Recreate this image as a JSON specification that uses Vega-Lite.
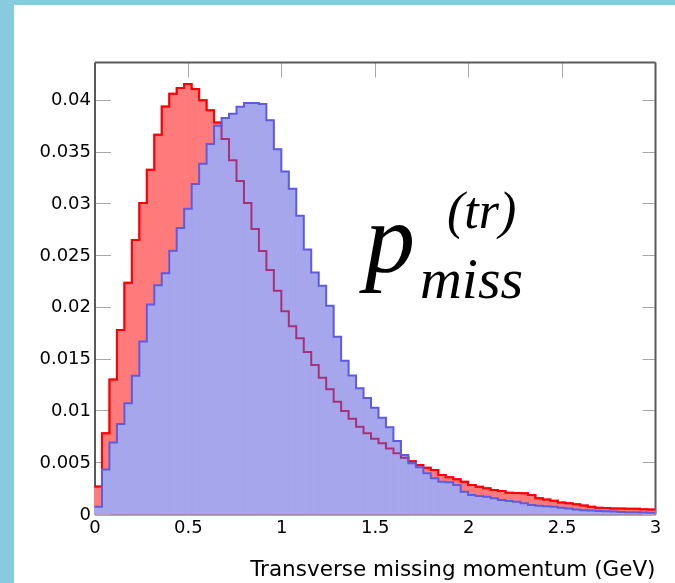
{
  "$schema": "https://vega.github.io/schema/vega-lite/v6.json",
  "width": 661,
  "height": 578,
  "autosize": {"type": "none"},
  "padding": {"left": 14, "top": 5, "right": 0, "bottom": 0},
  "background": "#88cade",
  "view": {"fill": "white", "stroke": null},
  "config": {
    "font": "DejaVu Sans",
    "axis": {
      "grid": false,
      "domainColor": "#5a5a5a",
      "domainWidth": 2,
      "tickColor": "#a8a8a8",
      "tickWidth": 1,
      "labelFont": "DejaVu Sans",
      "labelFontSize": 18,
      "labelColor": "#000000",
      "labelFlush": false,
      "labelOverlap": false,
      "titleFont": "DejaVu Sans",
      "titleFontWeight": "normal",
      "titleColor": "#000000"
    }
  },
  "datasets": {
    "bins": [
      {"lo": 0, "hi": 0.04, "red": 0.00265, "blue": 0.0007},
      {"lo": 0.04, "hi": 0.08, "red": 0.0078, "blue": 0.0043},
      {"lo": 0.08, "hi": 0.12, "red": 0.013, "blue": 0.0069},
      {"lo": 0.12, "hi": 0.16, "red": 0.01777, "blue": 0.0087},
      {"lo": 0.16, "hi": 0.2, "red": 0.02235, "blue": 0.0107},
      {"lo": 0.2, "hi": 0.24, "red": 0.02647, "blue": 0.01335},
      {"lo": 0.24, "hi": 0.28, "red": 0.03005, "blue": 0.01667},
      {"lo": 0.28, "hi": 0.32, "red": 0.03327, "blue": 0.02025},
      {"lo": 0.32, "hi": 0.36, "red": 0.03665, "blue": 0.02209},
      {"lo": 0.36, "hi": 0.4, "red": 0.03936, "blue": 0.02325},
      {"lo": 0.4, "hi": 0.44, "red": 0.04061, "blue": 0.02544},
      {"lo": 0.44, "hi": 0.48, "red": 0.04116, "blue": 0.02763},
      {"lo": 0.48, "hi": 0.52, "red": 0.04155, "blue": 0.0295},
      {"lo": 0.52, "hi": 0.56, "red": 0.04106, "blue": 0.03188},
      {"lo": 0.56, "hi": 0.6, "red": 0.03997, "blue": 0.03385},
      {"lo": 0.6, "hi": 0.64, "red": 0.039, "blue": 0.03575},
      {"lo": 0.64, "hi": 0.68, "red": 0.03782, "blue": 0.0375},
      {"lo": 0.68, "hi": 0.72, "red": 0.03623, "blue": 0.03825},
      {"lo": 0.72, "hi": 0.76, "red": 0.03418, "blue": 0.03868},
      {"lo": 0.76, "hi": 0.8, "red": 0.03217, "blue": 0.03934},
      {"lo": 0.8, "hi": 0.84, "red": 0.03004, "blue": 0.0397},
      {"lo": 0.84, "hi": 0.88, "red": 0.02754, "blue": 0.0397},
      {"lo": 0.88, "hi": 0.92, "red": 0.0254, "blue": 0.03961},
      {"lo": 0.92, "hi": 0.96, "red": 0.02357, "blue": 0.03805},
      {"lo": 0.96, "hi": 1, "red": 0.02158, "blue": 0.03525},
      {"lo": 1, "hi": 1.04, "red": 0.01958, "blue": 0.0331},
      {"lo": 1.04, "hi": 1.08, "red": 0.01813, "blue": 0.03142},
      {"lo": 1.08, "hi": 1.12, "red": 0.01697, "blue": 0.02881},
      {"lo": 1.12, "hi": 1.16, "red": 0.01565, "blue": 0.02555},
      {"lo": 1.16, "hi": 1.2, "red": 0.0144, "blue": 0.02334},
      {"lo": 1.2, "hi": 1.24, "red": 0.01317, "blue": 0.02206},
      {"lo": 1.24, "hi": 1.28, "red": 0.01205, "blue": 0.02013},
      {"lo": 1.28, "hi": 1.32, "red": 0.01085, "blue": 0.01713},
      {"lo": 1.32, "hi": 1.36, "red": 0.00995, "blue": 0.01481},
      {"lo": 1.36, "hi": 1.4, "red": 0.00921, "blue": 0.01337},
      {"lo": 1.4, "hi": 1.44, "red": 0.00844, "blue": 0.01214},
      {"lo": 1.44, "hi": 1.48, "red": 0.00779, "blue": 0.01121},
      {"lo": 1.48, "hi": 1.52, "red": 0.00728, "blue": 0.01027},
      {"lo": 1.52, "hi": 1.56, "red": 0.00683, "blue": 0.00931},
      {"lo": 1.56, "hi": 1.6, "red": 0.00634, "blue": 0.00837},
      {"lo": 1.6, "hi": 1.64, "red": 0.00586, "blue": 0.00705},
      {"lo": 1.64, "hi": 1.68, "red": 0.00544, "blue": 0.0057},
      {"lo": 1.68, "hi": 1.72, "red": 0.0051, "blue": 0.0049},
      {"lo": 1.72, "hi": 1.76, "red": 0.00473, "blue": 0.00451},
      {"lo": 1.76, "hi": 1.8, "red": 0.00448, "blue": 0.00393},
      {"lo": 1.8, "hi": 1.84, "red": 0.00425, "blue": 0.00345},
      {"lo": 1.84, "hi": 1.88, "red": 0.00377, "blue": 0.00312},
      {"lo": 1.88, "hi": 1.92, "red": 0.00354, "blue": 0.00306},
      {"lo": 1.92, "hi": 1.96, "red": 0.00335, "blue": 0.0028},
      {"lo": 1.96, "hi": 2, "red": 0.00312, "blue": 0.00216},
      {"lo": 2, "hi": 2.04, "red": 0.0028, "blue": 0.00184},
      {"lo": 2.04, "hi": 2.08, "red": 0.00264, "blue": 0.00174},
      {"lo": 2.08, "hi": 2.12, "red": 0.00248, "blue": 0.00167},
      {"lo": 2.12, "hi": 2.16, "red": 0.00232, "blue": 0.00151},
      {"lo": 2.16, "hi": 2.2, "red": 0.00222, "blue": 0.00135},
      {"lo": 2.2, "hi": 2.24, "red": 0.00206, "blue": 0.00126},
      {"lo": 2.24, "hi": 2.28, "red": 0.00203, "blue": 0.00119},
      {"lo": 2.28, "hi": 2.32, "red": 0.002, "blue": 0.00103},
      {"lo": 2.32, "hi": 2.36, "red": 0.00183, "blue": 0.00088},
      {"lo": 2.36, "hi": 2.4, "red": 0.00153, "blue": 0.0008},
      {"lo": 2.4, "hi": 2.44, "red": 0.0014, "blue": 0.00074},
      {"lo": 2.44, "hi": 2.48, "red": 0.00127, "blue": 0.0007},
      {"lo": 2.48, "hi": 2.52, "red": 0.0011, "blue": 0.0006},
      {"lo": 2.52, "hi": 2.56, "red": 0.00103, "blue": 0.00053},
      {"lo": 2.56, "hi": 2.6, "red": 0.00093, "blue": 0.00043},
      {"lo": 2.6, "hi": 2.64, "red": 0.00083, "blue": 0.00037},
      {"lo": 2.64, "hi": 2.68, "red": 0.0007, "blue": 0.00033},
      {"lo": 2.68, "hi": 2.72, "red": 0.0006, "blue": 0.0003},
      {"lo": 2.72, "hi": 2.76, "red": 0.00057, "blue": 0.00027},
      {"lo": 2.76, "hi": 2.8, "red": 0.00053, "blue": 0.00023},
      {"lo": 2.8, "hi": 2.84, "red": 0.00053, "blue": 0.0002},
      {"lo": 2.84, "hi": 2.88, "red": 0.0005, "blue": 0.00018},
      {"lo": 2.88, "hi": 2.92, "red": 0.0005, "blue": 0.00016},
      {"lo": 2.92, "hi": 2.96, "red": 0.00047, "blue": 0.00015},
      {"lo": 2.96, "hi": 3, "red": 0.00043, "blue": 0.00013}
    ]
  },
  "data": {"name": "bins"},
  "layer": [
    {
      "mark": {"type": "rect", "color": "#ff7b7b", "stroke": "#ff7b7b", "strokeWidth": 1},
      "encoding": {
        "x": {
          "field": "lo", "type": "quantitative",
          "scale": {"domain": [0, 3], "range": [80.5, 641], "nice": false, "zero": false},
          "axis": {
            "orient": "bottom", "offset": -69,
            "values": [0, 0.5, 1, 1.5, 2, 2.5, 3], "format": "~g",
            "tickSize": -13, "labelPadding": 17,
            "title": "Transverse missing momentum (GeV)",
            "titleFontSize": 21.5, "titleAnchor": "end", "titleAlign": "right",
            "titleBaseline": "alphabetic", "titleY": 61
          }
        },
        "x2": {"field": "hi"},
        "y": {
          "field": "red", "type": "quantitative",
          "scale": {"domain": [0, 0.04367], "range": [509, 57], "nice": false, "zero": false},
          "axis": {
            "orient": "left", "offset": -80.5,
            "values": [0, 0.005, 0.01, 0.015, 0.02, 0.025, 0.03, 0.035, 0.04], "format": "~g",
            "tickSize": -16, "labelPadding": 20, "title": null
          }
        },
        "y2": {"datum": 0}
      }
    },
    {
      "transform": [{"fold": ["lo", "hi"], "as": ["edge", "xe"]}],
      "mark": {"type": "line", "color": "#ff0000", "strokeWidth": 2, "interpolate": "linear"},
      "encoding": {
        "x": {"field": "xe", "type": "quantitative", "axis": null},
        "y": {"field": "red", "type": "quantitative", "axis": null},
        "order": [{"field": "xe", "type": "quantitative"}, {"field": "lo", "type": "quantitative"}]
      }
    },
    {
      "mark": {"type": "rect", "color": "#a6a6ec", "stroke": "#a6a6ec", "strokeWidth": 1},
      "encoding": {
        "x": {"field": "lo", "type": "quantitative", "axis": null},
        "x2": {"field": "hi"},
        "y": {"field": "blue", "type": "quantitative", "axis": null},
        "y2": {"datum": 0}
      }
    },
    {
      "transform": [{"fold": ["lo", "hi"], "as": ["edge", "xe"]}],
      "mark": {"type": "line", "color": "#ff4b82", "strokeWidth": 2, "blend": "multiply", "interpolate": "linear"},
      "encoding": {
        "x": {"field": "xe", "type": "quantitative", "axis": null},
        "y": {"field": "red", "type": "quantitative", "axis": null},
        "order": [{"field": "xe", "type": "quantitative"}, {"field": "lo", "type": "quantitative"}]
      }
    },
    {
      "transform": [{"fold": ["lo", "hi"], "as": ["edge", "xe"]}],
      "mark": {"type": "line", "color": "#5c5cdc", "strokeWidth": 2, "interpolate": "linear"},
      "encoding": {
        "x": {
          "field": "xe", "type": "quantitative",
          "axis": {
            "orient": "top", "offset": -57,
            "values": [0, 0.5, 1, 1.5, 2, 2.5, 3],
            "tickSize": -15, "labels": false, "title": null
          }
        },
        "y": {
          "field": "blue", "type": "quantitative",
          "axis": {
            "orient": "right", "offset": -20,
            "values": [0, 0.005, 0.01, 0.015, 0.02, 0.025, 0.03, 0.035, 0.04],
            "tickSize": -13, "labels": false, "title": null
          }
        },
        "order": [{"field": "xe", "type": "quantitative"}, {"field": "lo", "type": "quantitative"}]
      }
    },
    {
      "data": {"values": [{}]},
      "mark": {"type": "text", "text": "p", "font": "Liberation Serif", "fontStyle": "italic", "fontSize": 100, "align": "left", "baseline": "alphabetic", "color": "#000000"},
      "encoding": {
        "x": {"datum": 1.448, "type": "quantitative", "axis": null},
        "y": {"datum": 0.02338, "type": "quantitative", "axis": null}
      }
    },
    {
      "data": {"values": [{}]},
      "mark": {"type": "text", "text": "miss", "font": "Liberation Serif", "fontStyle": "italic", "fontSize": 58, "align": "left", "baseline": "alphabetic", "color": "#000000"},
      "encoding": {
        "x": {"datum": 1.742, "type": "quantitative", "axis": null},
        "y": {"datum": 0.02087, "type": "quantitative", "axis": null}
      }
    },
    {
      "data": {"values": [{}]},
      "mark": {"type": "text", "text": "(tr)", "font": "Liberation Serif", "fontStyle": "italic", "fontSize": 52, "align": "left", "baseline": "alphabetic", "color": "#000000"},
      "encoding": {
        "x": {"datum": 1.887, "type": "quantitative", "axis": null},
        "y": {"datum": 0.02763, "type": "quantitative", "axis": null}
      }
    }
  ],
  "resolve": {"axis": {"x": "independent", "y": "independent"}}
}
